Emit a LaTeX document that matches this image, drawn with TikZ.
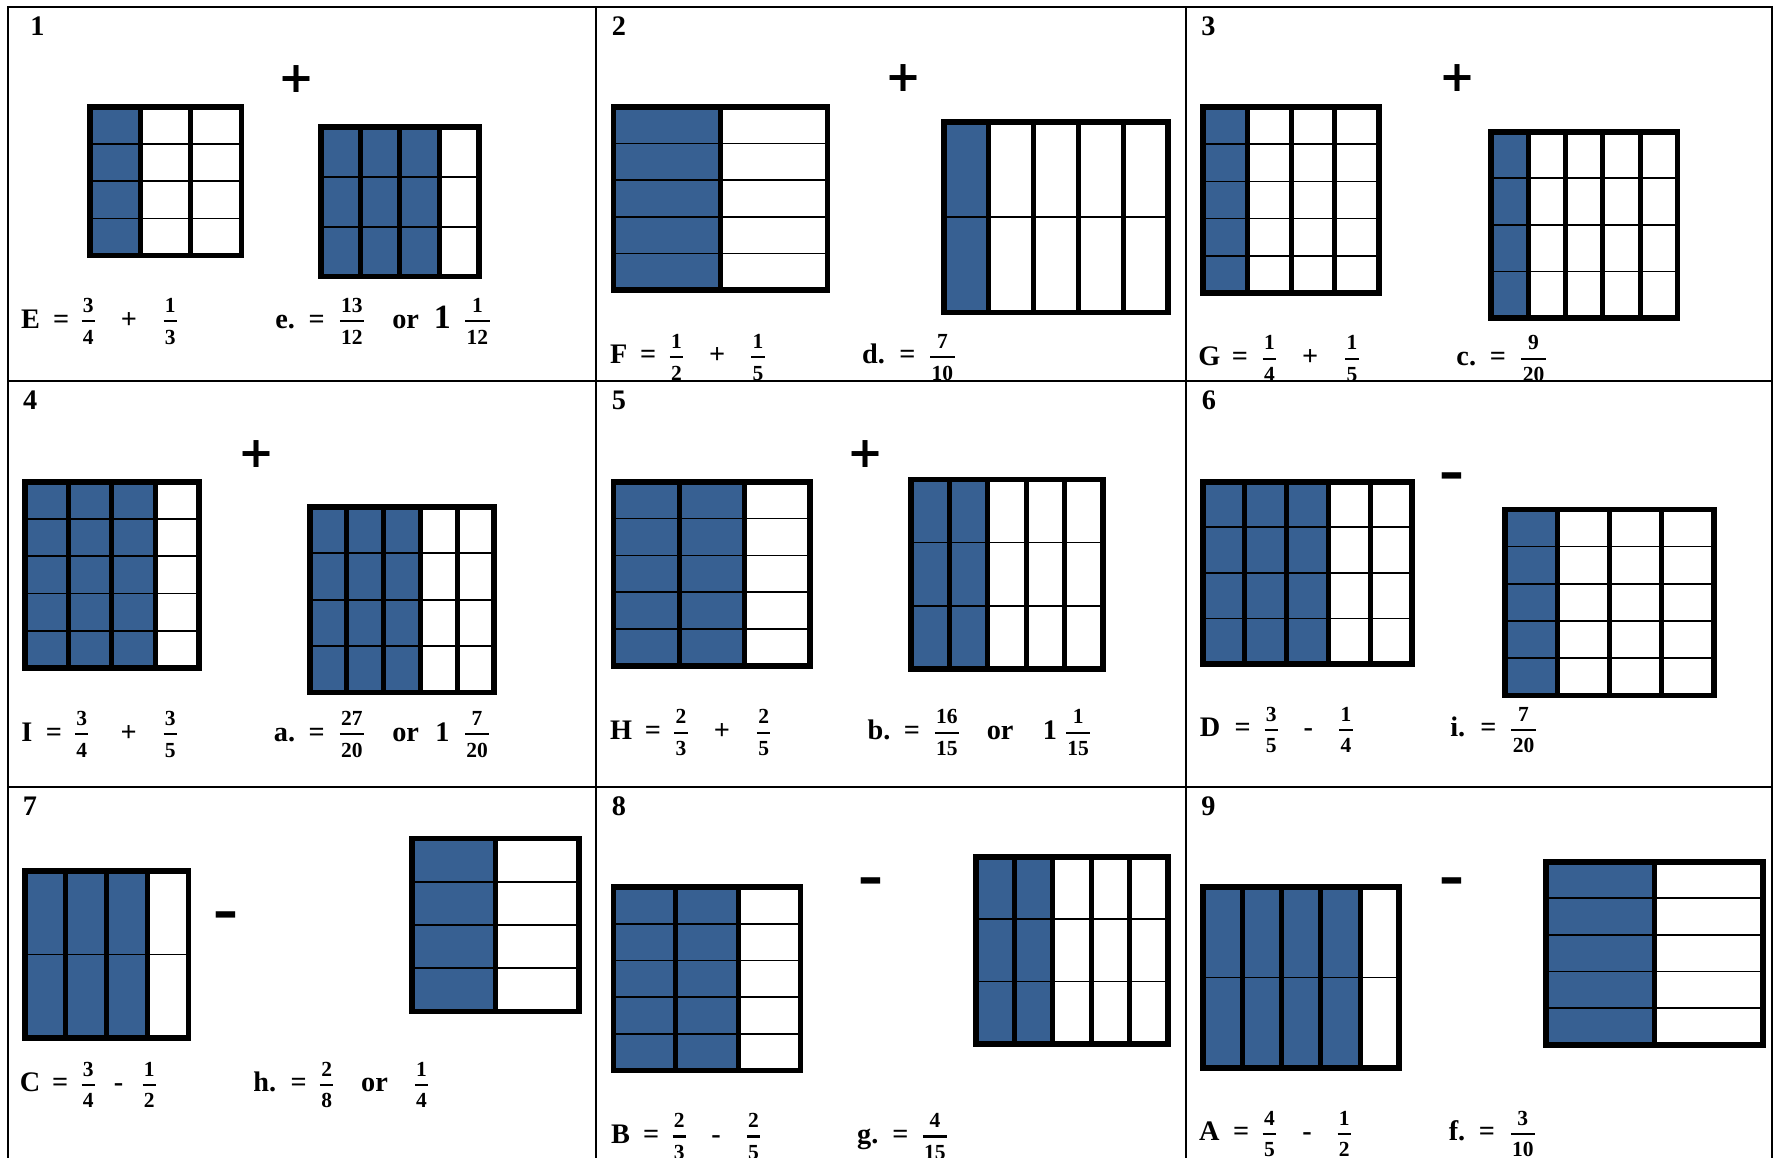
\documentclass[tikz,border=0pt]{standalone}
\usepackage{fontspec}
\usepackage{amsmath}
\setmainfont{Liberation Serif}
\newfontfamily\opfont{DejaVu Sans}
\definecolor{fracblue}{RGB}{55,96,146}
\newcommand\numf{\fontsize{9.5}{11}\selectfont\bfseries}
\newcommand\fr[2]{\ensuremath{\genfrac{}{}{0.9pt}{1}{\text{\numf\rule[-2.5pt]{0pt}{1pt}\kern.6pt#1\kern.6pt}}{\text{\numf\rule{0pt}{8.8pt}\kern.6pt#2\kern.6pt}}}}
% x1 y1 x2 y2 cols rows shaded
\newcommand\fgrid[7]{%
  \fill[fracblue] (#1,#2) rectangle ({#1+(#3-#1)*#7/#5},#4);
  \pgfmathtruncatemacro\gr{#6-1}%
  \pgfmathtruncatemacro\gc{#5-1}%
  \foreach \j in {1,...,\gr}{\draw[gridh] (#1,{#2+(#4-#2)*\j/#6}) -- (#3,{#2+(#4-#2)*\j/#6});}
  \foreach \i in {1,...,\gc}{\draw[gridv] ({#1+(#3-#1)*\i/#5},#2) -- ({#1+(#3-#1)*\i/#5},#4);}
  \draw[gridouter] (#1,#2) rectangle (#3,#4);
}
\begin{document}
\begin{tikzpicture}[x=0.5pt,y=-0.5pt,
  tbl/.style={line width=0.9pt},
  gridouter/.style={line width=2.5pt},
  gridv/.style={line width=2.2pt},
  gridh/.style={line width=0.75pt},
  txt/.style={anchor=base,inner sep=0pt,font=\fontsize{12.5}{15}\selectfont\bfseries},
  bigone/.style={anchor=base,inner sep=0pt,font=\fontsize{15}{17}\selectfont\bfseries},
  plusop/.style={anchor=base,inner sep=0pt,font=\opfont\fontsize{19}{21}\selectfont\bfseries},
  minusop/.style={anchor=base,inner sep=0pt,font=\fontsize{33}{35}\selectfont\bfseries}]
\useasboundingbox (0,0) rectangle (1568,1023.5);
\fill[white] (0,0) rectangle (1568,1023.5);
% table
\draw[tbl] (7,1023.5) -- (7,6) -- (1566.5,6) -- (1566.5,1023.5);
\draw[tbl] (527,6) -- (527,1023.5);
\draw[tbl] (1048.3,6) -- (1048.3,1023.5);
\draw[tbl] (7,337) -- (1566.5,337);
\draw[tbl] (7,696) -- (1566.5,696);
% grids
\fgrid{79.5}{94.6}{213.4}{225.9}{3}{4}{1}
\fgrid{283.8}{112.3}{423.1}{244.5}{4}{3}{3}
\fgrid{542.4}{94.6}{731.5}{256.3}{2}{5}{1}
\fgrid{834.4}{107.6}{1032.6}{276.3}{5}{2}{1}
\fgrid{1063.4}{94.6}{1218.8}{258.9}{4}{5}{1}
\fgrid{1318}{116.4}{1482.6}{281}{5}{4}{1}
\fgrid{22}{425.8}{175.9}{590.4}{4}{5}{3}
\fgrid{274}{447.9}{436.6}{612.2}{5}{4}{3}
\fgrid{542.4}{425.8}{715.9}{588.6}{3}{5}{2}
\fgrid{805.4}{423.7}{974.7}{591.3}{5}{3}{2}
\fgrid{1063.4}{425.8}{1248.2}{586.8}{5}{4}{3}
\fgrid{1330.4}{450.2}{1514.8}{614.8}{4}{5}{1}
\fgrid{22}{769.9}{166.7}{917.4}{4}{2}{3}
\fgrid{364.4}{741}{511.7}{894.1}{2}{4}{1}
\fgrid{542.4}{784}{707.6}{946.3}{3}{5}{2}
\fgrid{862.8}{757.2}{1032.2}{922.7}{5}{3}{2}
\fgrid{1063.4}{784}{1236.8}{943.9}{5}{2}{4}
\fgrid{1366.7}{761.6}{1558.1}{923.6}{2}{5}{1}
% cell labels
\node[txt] (n1) at (33,31) {1};
\node[txt] (n2) at (547,31) {2};
\node[txt] (n3) at (1068,31) {3};
\node[txt] (n4) at (26.6,362) {4};
\node[txt] (n5) at (547,362) {5};
\node[txt] (n6) at (1068.5,362) {6};
\node[txt] (n7) at (26.4,720.4) {7};
\node[txt] (n8) at (547,720.4) {8};
\node[txt] (n9) at (1068,720.4) {9};
% big operators
\node[plusop] (op1) at (262,82) {+};
\node[plusop] (op2) at (799,81) {+};
\node[plusop] (op3) at (1288,81) {+};
\node[plusop] (op4) at (227,413) {+};
\node[plusop] (op5) at (765,413) {+};
\node[minusop] (op6) at (1283,436) {-};
\node[minusop] (op7) at (200,824) {-};
\node[minusop] (op8) at (770,794.5) {-};
\node[minusop] (op9) at (1283,794.5) {-};
% cell 1
\node[txt] (a1) at (27,290) {E};
\node[txt] (a2) at (54,290) {=};
\node[txt] (a3) at (78,290) {\fr{3}{4}};
\node[txt] (a4) at (114,290) {+};
\node[txt] (a5) at (150.5,290) {\fr{1}{3}};
\node[txt] (a6) at (252,290) {e.};
\node[txt] (a7) at (280,290) {=};
\node[txt] (a8) at (311,290) {\fr{13}{12}};
\node[txt] (a9) at (358.5,290) {or};
\node[bigone] (a10) at (391,290) {1};
\node[txt] (a11) at (422,290) {\fr{1}{12}};
% cell 2
\node[txt] (b1) at (547,321.7) {F};
\node[txt] (b2) at (573,321.7) {=};
\node[txt] (b3) at (598,321.7) {\fr{1}{2}};
\node[txt] (b4) at (634,321.7) {+};
\node[txt] (b5) at (670,321.7) {\fr{1}{5}};
\node[txt] (b6) at (772,321.7) {d.};
\node[txt] (b7) at (802,321.7) {=};
\node[txt] (b8) at (833,321.7) {\fr{7}{10}};
% cell 3
\node[txt] (c1) at (1069,323) {G};
\node[txt] (c2) at (1096,323) {=};
\node[txt] (c3) at (1122,323) {\fr{1}{4}};
\node[txt] (c4) at (1158,323) {+};
\node[txt] (c5) at (1195,323) {\fr{1}{5}};
\node[txt] (c6) at (1296,323) {c.};
\node[txt] (c7) at (1324,323) {=};
\node[txt] (c8) at (1355.5,323) {\fr{9}{20}};
% cell 4
\node[txt] (d1) at (23.7,655) {I};
\node[txt] (d2) at (47.7,655) {=};
\node[txt] (d3) at (72.2,655) {\fr{3}{4}};
\node[txt] (d4) at (113.8,655) {+};
\node[txt] (d5) at (150.5,655) {\fr{3}{5}};
\node[txt] (d6) at (251.5,655) {a.};
\node[txt] (d7) at (280,655) {=};
\node[txt] (d8) at (311,655) {\fr{27}{20}};
\node[txt] (d9) at (358.5,655) {or};
\node[txt] (d10) at (391,655) {1};
\node[txt] (d11) at (421.7,655) {\fr{7}{20}};
% cell 5
\node[txt] (e1) at (549,653.5) {H};
\node[txt] (e2) at (577,653.5) {=};
\node[txt] (e3) at (602,653.5) {\fr{2}{3}};
\node[txt] (e4) at (638,653.5) {+};
\node[txt] (e5) at (675,653.5) {\fr{2}{5}};
\node[txt] (e6) at (777,653.5) {b.};
\node[txt] (e7) at (806,653.5) {=};
\node[txt] (e8) at (837,653.5) {\fr{16}{15}};
\node[txt] (e9) at (884,653.5) {or};
\node[txt] (e10) at (928,653.5) {1};
\node[txt] (e11) at (953,653.5) {\fr{1}{15}};
% cell 6
\node[txt] (f1) at (1069.6,651) {D};
\node[txt] (f2) at (1098.4,651) {=};
\node[txt] (f3) at (1123.6,651) {\fr{3}{5}};
\node[txt] (f4) at (1156.5,651) {-};
\node[txt] (f5) at (1189.6,651) {\fr{1}{4}};
\node[txt] (f6) at (1288.5,651) {i.};
\node[txt] (f7) at (1315.6,651) {=};
\node[txt] (f8) at (1346.6,651) {\fr{7}{20}};
% cell 7
\node[txt] (g1) at (26.7,965) {C};
\node[txt] (g2) at (53.1,965) {=};
\node[txt] (g3) at (78,965) {\fr{3}{4}};
\node[txt] (g4) at (104.9,965) {-};
\node[txt] (g5) at (132,965) {\fr{1}{2}};
\node[txt] (g6) at (234,965) {h.};
\node[txt] (g7) at (264,965) {=};
\node[txt] (g8) at (288.7,965) {\fr{2}{8}};
\node[txt] (g9) at (331,965) {or};
\node[txt] (g10) at (372.6,965) {\fr{1}{4}};
% cell 8
\node[txt] (h1) at (548.5,1010.5) {B};
\node[txt] (h2) at (575.6,1010.5) {=};
\node[txt] (h3) at (600.4,1010.5) {\fr{2}{3}};
\node[txt] (h4) at (633,1010.5) {-};
\node[txt] (h5) at (666,1010.5) {\fr{2}{5}};
\node[txt] (h6) at (767,1010.5) {g.};
\node[txt] (h7) at (795.8,1010.5) {=};
\node[txt] (h8) at (826.4,1010.5) {\fr{4}{15}};
% cell 9
\node[txt] (i1) at (1069,1008.2) {A};
\node[txt] (i2) at (1097,1008.2) {=};
\node[txt] (i3) at (1122,1008.2) {\fr{4}{5}};
\node[txt] (i4) at (1155.2,1008.2) {-};
\node[txt] (i5) at (1188.2,1008.2) {\fr{1}{2}};
\node[txt] (i6) at (1287.8,1008.2) {f.};
\node[txt] (i7) at (1314.3,1008.2) {=};
\node[txt] (i8) at (1346,1008.2) {\fr{3}{10}};
\end{tikzpicture}
\end{document}
